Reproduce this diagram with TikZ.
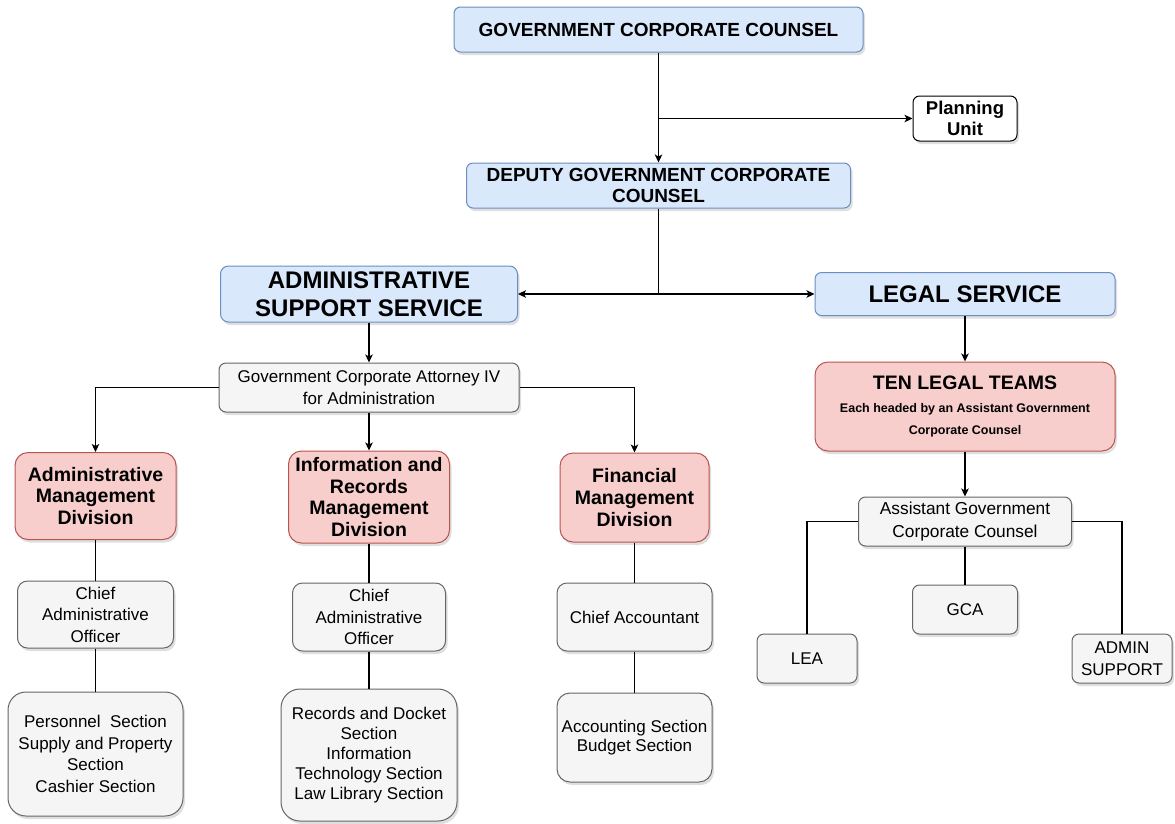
\documentclass[tikz,border=0pt]{standalone}
\usepackage{fontspec}
\setmainfont{Liberation Sans}
\usetikzlibrary{arrows.meta,shadows}
\definecolor{bfill}{HTML}{DAE8FC}
\definecolor{bline}{HTML}{6C8EBF}
\definecolor{rfill}{HTML}{F8CECC}
\definecolor{rline}{HTML}{B85450}
\definecolor{gfill}{HTML}{F5F5F5}
\definecolor{gline}{HTML}{666666}
\begin{document}
\begin{tikzpicture}[x=1pt,y=-1pt,
 base/.style={draw, line width=1pt, align=center, inner sep=0pt, text=black,
   drop shadow={opacity=0.25,shadow xshift=2pt,shadow yshift=-3pt}},
 bluebox/.style={base, fill=bfill, draw=bline},
 redbox/.style={base, fill=rfill, draw=rline},
 graybox/.style={base, fill=gfill, draw=gline},
 whitebox/.style={base, fill=white, draw=black},
 wh/.style 2 args={minimum width=#1pt, minimum height=#2pt},
 conn/.style={line width=1.1pt, draw=black},
 arr/.style={conn, -{Stealth[length=8pt,width=7.5pt,inset=2pt]}},
 fbig/.style={font=\fontsize{24}{28}\selectfont\bfseries},
 fhead/.style={font=\fontsize{19}{21.7}\selectfont\bfseries},
 fnorm/.style={font=\fontsize{17}{21.5}\selectfont},
]
\fill[white] (0,0) rectangle (1175,823);
\path[use as bounding box] (0,0) rectangle (1175,823);

% top
\node[bluebox, wh={409}{45}, rounded corners=6.5pt, fhead] (gcc) at (658.5,29.5) {GOVERNMENT CORPORATE COUNSEL};
\node[whitebox, wh={104}{45}, rounded corners=6.5pt, font=\fontsize{18.5}{21.7}\selectfont\bfseries] (plan) at (965,118.5) {Planning\\Unit};
\node[bluebox, wh={384}{45}, rounded corners=6.5pt, fhead] (dep) at (658.5,185.5) {DEPUTY GOVERNMENT CORPORATE\\COUNSEL};

% services
\node[bluebox, wh={297}{56}, rounded corners=8pt, fbig] (ass) at (369,294) {ADMINISTRATIVE\\SUPPORT SERVICE};
\node[bluebox, wh={300}{43}, rounded corners=6.5pt, fbig] (ls) at (965,294) {LEGAL SERVICE};

% admin side
\node[graybox, wh={300}{49}, rounded corners=7pt, font=\fontsize{17}{22.5}\selectfont] (gca4) at (369,387.5) {Government Corporate Attorney IV\\for Administration};
\node[redbox, wh={161}{87}, rounded corners=13pt, font=\fontsize{19.5}{21.7}\selectfont\bfseries] (amd) at (95.5,496) {Administrative\\Management\\Division};
\node[redbox, wh={161}{92}, rounded corners=13pt, font=\fontsize{19.5}{21.7}\selectfont\bfseries] (irmd) at (369,497) {Information and\\Records\\Management\\Division};
\node[redbox, wh={149}{89}, rounded corners=13pt, font=\fontsize{19.5}{21.7}\selectfont\bfseries] (fmd) at (634.5,497.5) {Financial\\Management\\Division};

\node[graybox, wh={156}{67}, rounded corners=10pt, fnorm] (cao1) at (95.5,614.5) {Chief\\Administrative\\Officer};
\node[graybox, wh={153}{68}, rounded corners=10pt, fnorm] (cao2) at (369,617) {Chief\\Administrative\\Officer};
\node[graybox, wh={155}{68}, rounded corners=10pt, fnorm] (chacc) at (634.5,617) {Chief Accountant};

\node[graybox, wh={175}{124}, rounded corners=18pt, fnorm] (sec1) at (95.5,754) {Personnel~ Section\\Supply and Property\\Section\\Cashier Section};
\node[graybox, wh={176}{132}, rounded corners=19pt, font=\fontsize{17}{20}\selectfont] (sec2) at (369,755) {Records and Docket\\Section\\Information\\Technology Section\\Law Library Section};
\node[graybox, wh={155}{89}, rounded corners=13pt, font=\fontsize{17}{19.5}\selectfont] (sec3) at (634.5,737.5) {Accounting Section\\Budget Section};

% legal side
\node[redbox, wh={300}{89}, rounded corners=13pt, font=\fontsize{12.5}{21.7}\selectfont\bfseries] (ten) at (965,406.5) {{\fontsize{19.5}{23}\selectfont TEN LEGAL TEAMS}\\[1pt]Each headed by an Assistant Government\\Corporate Counsel};
\node[graybox, wh={213}{49}, rounded corners=7pt, font=\fontsize{17.3}{22.3}\selectfont] (agcc) at (965,521.5) {Assistant Government\\Corporate Counsel};
\node[graybox, wh={105}{49}, rounded corners=7pt, fnorm] (gca) at (965,609.5) {GCA};
\node[graybox, wh={100}{49}, rounded corners=7pt, fnorm] (lea) at (807,658.5) {LEA};
\node[graybox, wh={100}{49}, rounded corners=7pt, font=\fontsize{17}{22}\selectfont] (adm) at (1122,658.5) {ADMIN\\SUPPORT};

% connectors
\coordinate (j1) at (gcc.south |- plan.west);
\draw[arr] (gcc.south) -- (dep.north);
\draw[arr] (j1) -- (plan.west);
\coordinate (j2) at (dep.south |- ass.east);
\draw[arr] (dep.south) -- (j2) -- (ass.east);
\draw[arr] (j2) -- (ls.west);

\draw[arr] (ass.south) -- (gca4.north);
\draw[arr] (gca4.west) -| (amd.north);
\draw[arr] (gca4.south) -- (irmd.north);
\draw[arr] (gca4.east) -| (fmd.north);

\draw[conn] (amd.south) -- (cao1.north);
\draw[conn] (cao1.south) -- (sec1.north);
\draw[conn] (irmd.south) -- (cao2.north);
\draw[conn] (cao2.south) -- (sec2.north);
\draw[conn] (fmd.south) -- (chacc.north);
\draw[conn] (chacc.south) -- (sec3.north);

\draw[arr] (ls.south) -- (ten.north);
\draw[arr] (ten.south) -- (agcc.north);
\draw[conn] (agcc.west) -| (lea.north);
\draw[conn] (agcc.south) -- (gca.north);
\draw[conn] (agcc.east) -| (adm.north);
\end{tikzpicture}
\end{document}
